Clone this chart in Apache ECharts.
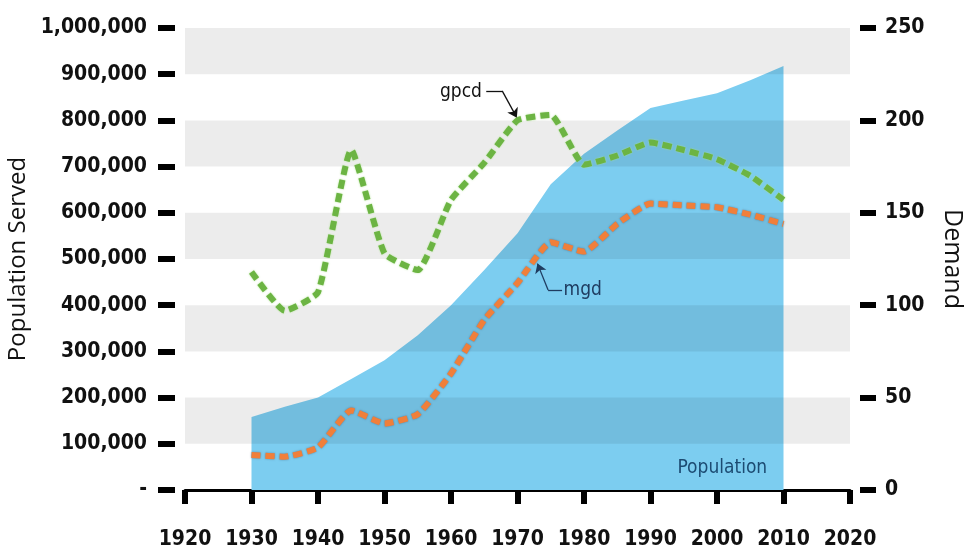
<!DOCTYPE html>
<html>
<head>
<meta charset="utf-8">
<script src="https://cdn.jsdelivr.net/npm/echarts@6/dist/echarts.min.js"></script>
<style>
  html, body { margin: 0; padding: 0; background: #fff; }
  #chart { width: 966px; height: 550px; }
</style>
</head>
<body>
<div id="chart"></div>
<script>
  // years on the x axis
  var years = [1930, 1935, 1940, 1945, 1950, 1955, 1960, 1965, 1970, 1975, 1980, 1985, 1990, 1995, 2000, 2005, 2010];
  // population served (left axis)
  var population = [158000, 180000, 200000, 240000, 281000, 335000, 400000, 476000, 556000, 662000, 728000, 778000, 827000, 843000, 859000, 887000, 918000];
  // demand (right axis)
  var gpcd = [118, 97, 107, 184, 128, 119, 157, 177, 200, 203, 176, 181, 188, 184, 179, 170, 157];
  var mgd = [19, 18, 23, 43, 36, 41, 63, 92, 112, 134, 129, 144, 155, 154, 153, 149, 144];

  var labelFont = '"DejaVu Sans Condensed", "Liberation Sans", sans-serif';

  function pairs(vals) {
    return years.map(function (y, i) { return [y, vals[i]]; })
  }

  var myChart = echarts.init(document.getElementById('chart'));

  var option = {
    animation: false,
    grid: {
      left: 185,
      right: 116,
      top: 28,
      bottom: 60,
      containLabel: false,
      outerBoundsMode: 'none'
    },
    xAxis: [
      {
        type: 'value',
        min: 1920,
        max: 2020,
        interval: 10,
        axisLine: { show: true, lineStyle: { color: '#000', width: 3 } },
        axisTick: { show: false },
        axisLabel: { show: false },
        splitLine: { show: false }
      },
      {
        type: 'value',
        position: 'bottom',
        offset: 12,
        min: 1920,
        max: 2020,
        interval: 10,
        axisLine: { show: false },
        axisTick: { show: true, length: 14, lineStyle: { color: '#000', width: 6 } },
        axisLabel: {
          margin: 27,
          color: '#111',
          fontFamily: labelFont,
          fontWeight: 'bold',
          fontSize: 21,
          formatter: function (v) { return String(v); }
        },
        splitLine: { show: false }
      }
    ],
    yAxis: [
      {
        type: 'value',
        position: 'left',
        z: 3,
        offset: 10,
        min: 0,
        max: 1000000,
        interval: 100000,
        name: 'Population Served',
        nameLocation: 'middle',
        nameRotate: 90,
        nameGap: 140,
        nameTextStyle: { fontFamily: 'Open Sans', fontSize: 24, color: '#111' },
        axisLine: { show: false },
        axisTick: { show: true, length: 17, lineStyle: { color: '#000', width: 6 } },
        axisLabel: {
          margin: 28,
          color: '#111',
          fontFamily: labelFont,
          fontWeight: 'bold',
          fontSize: 21,
          formatter: function (v) {
            return v === 0 ? '-' : v.toLocaleString('en-US');
          }
        },
        splitLine: { show: false },
        splitArea: {
          show: true,
          areaStyle: { color: ['rgba(0,0,0,0)', 'rgba(0,0,0,0.075)'] }
        }
      },
      {
        type: 'value',
        position: 'right',
        offset: 10,
        min: 0,
        max: 250,
        interval: 50,
        name: 'Demand',
        nameLocation: 'middle',
        nameRotate: -90,
        nameGap: 80,
        nameTextStyle: { fontFamily: 'Open Sans', fontSize: 25, color: '#111' },
        axisLine: { show: false },
        axisTick: { show: true, length: 16, lineStyle: { color: '#000', width: 6 } },
        axisLabel: {
          margin: 25,
          color: '#111',
          fontFamily: labelFont,
          fontWeight: 'bold',
          fontSize: 21
        },
        splitLine: { show: false }
      }
    ],
    series: [
      {
        name: 'Population',
        type: 'line',
        z: 1,
        xAxisIndex: 0,
        yAxisIndex: 0,
        data: pairs(population),
        symbol: 'none',
        lineStyle: { width: 0 },
        areaStyle: { color: '#7ccdf0', opacity: 1 },
        markPoint: {
          symbol: 'circle',
          symbolSize: 1,
          itemStyle: { color: 'rgba(0,0,0,0)' },
          label: {
            show: true,
            position: 'inside',
            formatter: 'Population',
            color: '#1c4b72',
            fontFamily: labelFont,
            fontSize: 19
          },
          data: [{ coord: [2000.8, 47600] }]
        }
      },
      {
        name: 'gpcd',
        type: 'line',
        z: 5,
        xAxisIndex: 0,
        yAxisIndex: 1,
        data: pairs(gpcd),
        symbol: 'none',
        smooth: 0.15,
        lineStyle: {
          color: '#6cb443',
          width: 6,
          type: [9, 5],
          shadowColor: 'rgba(170,225,140,0.9)',
          shadowBlur: 2
        },
        markLine: {
          silent: true,
          symbol: ['none', 'none'],
          symbolSize: 9,
          label: { show: false },
          lineStyle: { color: '#111', width: 1.3, type: 'solid' },
          data: [
            [{ coord: [1965.3, 216] }, { coord: [1967.7, 216] }],
            [{ coord: [1967.7, 216] }, { coord: [1969.9, 201.5], symbol: 'arrow' }]
          ]
        },
        markPoint: {
          symbol: 'circle',
          symbolSize: 1,
          itemStyle: { color: 'rgba(0,0,0,0)' },
          label: {
            show: true,
            position: 'inside',
            formatter: 'gpcd',
            color: '#111',
            fontFamily: labelFont,
            fontSize: 19
          },
          data: [{ coord: [1961.5, 215.5] }]
        }
      },
      {
        name: 'mgd',
        type: 'line',
        z: 5,
        xAxisIndex: 0,
        yAxisIndex: 1,
        data: pairs(mgd),
        symbol: 'none',
        smooth: 0.15,
        lineStyle: {
          color: '#f07f3a',
          width: 6,
          type: [9, 5],
          shadowColor: 'rgba(70,100,130,0.7)',
          shadowBlur: 2
        },
        markLine: {
          silent: true,
          symbol: ['none', 'none'],
          symbolSize: 9,
          label: { show: false },
          lineStyle: { color: '#1f3c60', width: 1.3, type: 'solid' },
          data: [
            [{ coord: [1976.7, 108.2] }, { coord: [1974.6, 108.2] }],
            [{ coord: [1974.6, 108.2] }, { coord: [1973.0, 122.5], symbol: 'arrow' }]
          ]
        },
        markPoint: {
          symbol: 'circle',
          symbolSize: 1,
          itemStyle: { color: 'rgba(0,0,0,0)' },
          label: {
            show: true,
            position: 'inside',
            formatter: 'mgd',
            color: '#1f3c60',
            fontFamily: labelFont,
            fontSize: 19
          },
          data: [{ coord: [1979.8, 108.2] }]
        }
      }
    ]
  };
  myChart.setOption(option);
</script>
</body>
</html>
